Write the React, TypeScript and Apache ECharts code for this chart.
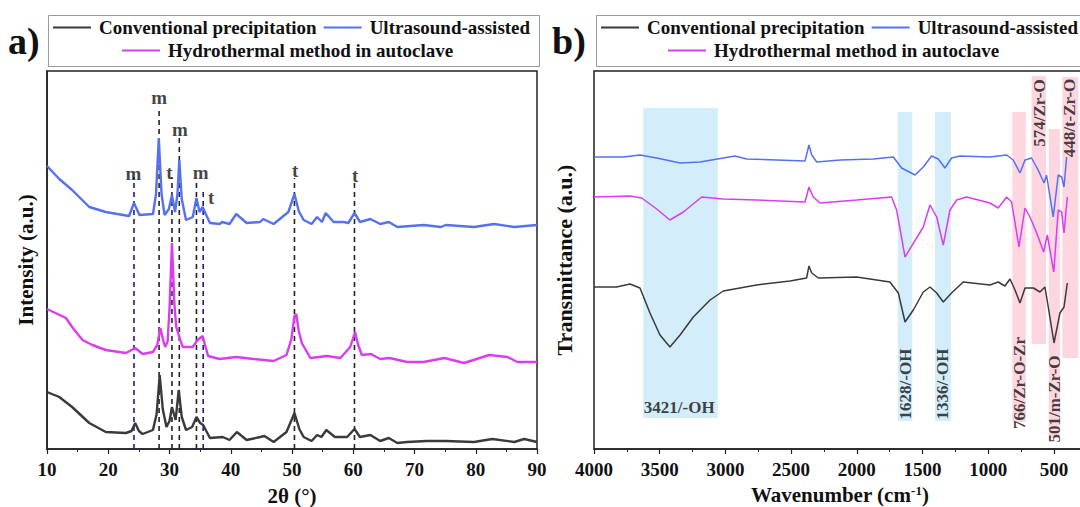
import React, { useEffect, useRef } from "react";
import * as echarts from "echarts";

// ---------- Data ----------
const SERIES_NAMES = ["Conventional precipitation", "Ultrasound-assisted", "Hydrothermal method in autoclave"];

// XRD: [2θ (°), intensity (a.u., offset)]
const XRD_CONV: [number, number][] = [
  [10, 57], [12, 52], [14.1, 42], [16.9, 26], [19.6, 17], [22.9, 16], [23.8, 18], [24.4, 26], [25.0, 18], [25.6, 15],
  [27.3, 19], [27.9, 35], [28.4, 74], [28.9, 40], [29.5, 22], [30.0, 28], [30.4, 42], [31.0, 29], [31.5, 59], [32.0, 32],
  [32.7, 19], [33.7, 22], [34.4, 32], [35.0, 26], [35.5, 24], [36.6, 11], [38.7, 12], [39.8, 9], [41, 17], [42.6, 9],
  [44.8, 12], [45.5, 13], [47, 7], [49.1, 17], [50.4, 36], [51.2, 20], [51.9, 12], [53.2, 8], [54.1, 14], [54.8, 12],
  [55.6, 19], [57, 12], [59, 12], [60.2, 20], [61.1, 12], [62.8, 14], [64.4, 8], [65.8, 11], [67.2, 6], [68.8, 7],
  [72, 8], [75.1, 8], [79.7, 7], [82.7, 10], [86.3, 7], [87.9, 10], [90, 7],
];
const XRD_ULTRA: [number, number][] = [
  [10, 283], [12, 270], [14.1, 259], [16.9, 242], [19.6, 237], [23.4, 233], [24.2, 246], [25.1, 234], [27.3, 235],
  [27.8, 255], [28.25, 311], [28.7, 255], [29.2, 234], [29.9, 240], [30.4, 254], [30.9, 237], [31.3, 255], [31.6, 289],
  [32.0, 250], [32.7, 229], [33.8, 232], [34.4, 251], [34.9, 237], [35.4, 242], [36.6, 226], [38.2, 225], [38.6, 227],
  [39.8, 225], [40.9, 235], [42.6, 226], [44.8, 227], [45.3, 230], [47, 225], [49.4, 237], [50.4, 255], [51.1, 238],
  [51.9, 229], [53.2, 225], [54.1, 232], [54.9, 227], [55.5, 236], [56.8, 227], [58.4, 227], [59.2, 226], [60.2, 236],
  [61.1, 227], [62.8, 230], [64.4, 225], [65.8, 227], [67.2, 222], [71.5, 224], [74.3, 222], [75.1, 224], [79.7, 222],
  [83, 225], [86.3, 222], [90, 224],
];
const XRD_HYDRO: [number, number][] = [
  [10, 140], [13.1, 131], [14.1, 122], [15.8, 109], [17.4, 104], [19.6, 99], [22.9, 96], [24.4, 101], [25.6, 95],
  [27.3, 97], [28.0, 104], [28.5, 121], [29.0, 108], [29.3, 102], [29.7, 108], [30.0, 140], [30.4, 206], [30.8, 145],
  [31.1, 122], [31.4, 116], [31.8, 108], [32.2, 102], [33.8, 102], [34.6, 109], [35.4, 113], [35.8, 104], [36.3, 93],
  [38.2, 90], [40.9, 92], [43.7, 90], [47, 88], [49.1, 94], [49.9, 110], [50.4, 133], [50.7, 135], [51.1, 118],
  [51.6, 106], [53, 91], [55.7, 93], [57.9, 91], [59.5, 102], [60.3, 117], [60.8, 104], [61.4, 94], [62.9, 95],
  [64.4, 90], [65.9, 91], [68.8, 87], [71.5, 87], [74.9, 91], [78.1, 86], [82.2, 94], [85.2, 92], [86.8, 87], [90, 87],
];

// XRD reflection markers: [2θ, top of dashed line, phase]
const XRD_MARK_LINES: [number, number, string][] = [
  [24.2, 272, "edge"], [28.3, 342, "main"], [30.4, 272, "main"], [31.6, 314, "main"],
  [34.4, 266, "main"], [35.5, 261, "edge"], [50.4, 271, "main"], [60.2, 266, "main"],
];
// XRD phase labels: [2θ, height, text]
const XRD_LABELS: [number, number, string][] = [
  [24.1, 276, "m"], [28.3, 352, "m"], [30.0, 277, "t"], [31.7, 320, "m"],
  [35.1, 277, "m"], [36.8, 252, "t"], [50.5, 279, "t"], [60.3, 274, "t"],
];

// FTIR: [wavenumber (cm-1), transmittance (a.u., offset)]
const FTIR_CONV: [number, number][] = [
  [4000, 162], [3828, 162], [3726, 165], [3650, 161], [3574, 136], [3498, 114], [3422, 102], [3345, 114], [3244, 132],
  [3117, 149], [3016, 158], [2763, 164], [2508, 168], [2382, 171], [2364, 183], [2343, 176], [2292, 171], [2001, 172],
  [1748, 167], [1684, 156], [1633, 127], [1570, 139], [1494, 157], [1443, 162], [1392, 156], [1342, 147], [1279, 156],
  [1190, 167], [987, 164], [924, 167], [873, 163], [834, 170], [796, 159], [758, 146], [720, 161], [656, 161],
  [606, 157], [568, 162], [543, 142], [499, 106], [454, 136], [423, 142], [398, 166],
];
const FTIR_ULTRA: [number, number][] = [
  [4000, 292], [3878, 292], [3777, 292], [3650, 294], [3523, 291], [3345, 286], [3193, 287], [3016, 291], [2927, 293],
  [2838, 290], [2610, 289], [2394, 288], [2364, 304], [2343, 294], [2305, 287], [2128, 289], [1874, 290], [1722, 292],
  [1659, 281], [1557, 274], [1494, 282], [1431, 293], [1380, 290], [1329, 281], [1279, 291], [1215, 293], [987, 292],
  [860, 294], [810, 289], [758, 276], [720, 289], [670, 291], [620, 279], [575, 266], [556, 274], [505, 232],
  [467, 274], [441, 272], [423, 262], [403, 292],
];
const FTIR_HYDRO: [number, number][] = [
  [4000, 252], [3726, 253], [3637, 251], [3523, 240], [3422, 229], [3320, 237], [3180, 252], [3016, 250], [2763, 249],
  [2394, 247], [2364, 262], [2331, 252], [2280, 246], [2001, 249], [1735, 252], [1697, 239], [1633, 192], [1494, 222],
  [1443, 244], [1392, 232], [1342, 204], [1291, 239], [1240, 249], [1164, 252], [987, 246], [924, 241], [860, 252],
  [822, 247], [766, 202], [720, 241], [682, 232], [631, 216], [578, 197], [550, 214], [501, 177], [467, 239],
  [441, 237], [423, 216], [398, 252],
];

// FTIR assignment bands: [from, to, bottom, top, group]
const FTIR_BANDS: [number, number, number, number, string][] = [
  [3625, 3058, 31, 341, "OH"], [1688, 1578, 28, 337, "OH"], [1405, 1284, 28, 337, "OH"],
  [816, 714, 27, 337, "ZrO"], [670, 560, 105, 373, "ZrO"], [539, 454, 11, 320, "ZrO"], [436, 314, 91, 372, "ZrO"],
];
const FTIR_LABELS_H: [number, number, string][] = [[3351, 42, "3421/-OH"]];
const FTIR_LABELS_V: [number, number, string][] = [
  [1633, 65, "1628/-OH"], [1346, 65, "1336/-OH"], [758, 66, "766/Zr-O-Zr"],
  [492, 50, "501/m-Zr-O"], [606, 336, "574/Zr-O"], [378, 331, "448/t-Zr-O"],
];

// ---------- Styling ----------
const FONT = "'Liberation Serif', 'Times New Roman', serif";
const COLORS: Record<string, string> = {
  "Conventional precipitation": "#3a3a3a",
  "Ultrasound-assisted": "#5670f2",
  "Hydrothermal method in autoclave": "#dc3cf0",
};
const BAND_COLORS: Record<string, string> = { OH: "#d3edfb", ZrO: "#fdd6df" };

function buildOption(): echarts.EChartsOption {
  const axisLabel = {
    fontFamily: FONT, fontSize: 19, fontWeight: "bold" as const, color: "#111", margin: 11,
    formatter: (v: number) => (v === 0 ? "" : String(v)),
  };
  const nameStyle = (size: number) => ({ fontFamily: FONT, fontSize: size, fontWeight: "bold" as const, color: "#111" });
  const lineSeries = (name: string, data: [number, number][], idx: number, width: number) => ({
    type: "line" as const,
    name,
    data,
    xAxisIndex: idx,
    yAxisIndex: idx,
    showSymbol: false,
    symbol: "none",
    silent: true,
    z: 4,
    lineStyle: { width, color: COLORS[name] },
    itemStyle: { color: COLORS[name] },
  });
  const legendBase = {
    icon: "rect",
    itemWidth: 38,
    itemHeight: 2,
    itemGap: 7,
    padding: 0,
    selectedMode: false as const,
    textStyle: { fontFamily: FONT, fontSize: 19, fontWeight: "bold" as const, color: "#111", padding: [0, 0, 0, 3] },
  };
  const tickStyle = {
    axisLine: { lineStyle: { color: "#222", width: 1.5 } },
    axisTick: { length: 5, lineStyle: { color: "#222", width: 1.2 } },
    minorTick: { show: true, splitNumber: 2, length: 3, lineStyle: { color: "#222", width: 1 } },
    splitLine: { show: false },
  };

  const series: any[] = [
    lineSeries(SERIES_NAMES[0], XRD_CONV, 0, 2.4),
    lineSeries(SERIES_NAMES[1], XRD_ULTRA, 0, 2.4),
    lineSeries(SERIES_NAMES[2], XRD_HYDRO, 0, 2.4),
    lineSeries(SERIES_NAMES[0], FTIR_CONV, 1, 1.5),
    lineSeries(SERIES_NAMES[1], FTIR_ULTRA, 1, 1.5),
    lineSeries(SERIES_NAMES[2], FTIR_HYDRO, 1, 1.5),
  ];
  XRD_MARK_LINES.forEach(([x, top, kind]) => {
    series.push({
      type: "line",
      name: "ref-" + x,
      xAxisIndex: 0,
      yAxisIndex: 0,
      data: [[x, 0], [x, top]],
      showSymbol: false,
      symbol: "none",
      silent: true,
      z: 3,
      lineStyle: { width: 1.6, type: [5, 4], color: kind === "edge" ? "#1c1c8c" : "#222" },
    });
  });
  series.push({
    type: "scatter",
    name: "xrd-labels",
    xAxisIndex: 0,
    yAxisIndex: 0,
    symbolSize: 1,
    itemStyle: { color: "rgba(0,0,0,0)" },
    silent: true,
    z: 6,
    data: XRD_LABELS.map(([x, y, t]) => ({ value: [x, y], name: t })),
    label: { show: true, position: "inside", formatter: "{b}", fontFamily: FONT, fontSize: 19, fontWeight: "bold", color: "#111" },
  });
  series.push({
    type: "line",
    name: "bands",
    xAxisIndex: 1,
    yAxisIndex: 1,
    data: [],
    silent: true,
    z: 1,
    markArea: {
      silent: true,
      data: FTIR_BANDS.map(([a, b, lo, hi, g]) => [
        { coord: [a, lo], itemStyle: { color: BAND_COLORS[g] } },
        { coord: [b, hi] },
      ]),
    },
  });
  series.push({
    type: "scatter",
    name: "ftir-labels-h",
    xAxisIndex: 1,
    yAxisIndex: 1,
    symbolSize: 1,
    itemStyle: { color: "rgba(0,0,0,0)" },
    silent: true,
    z: 6,
    data: FTIR_LABELS_H.map(([x, y, t]) => ({ value: [x, y], name: t })),
    label: { show: true, position: "inside", formatter: "{b}", fontFamily: FONT, fontSize: 17, fontWeight: "bold", color: "#111" },
  });
  series.push({
    type: "scatter",
    name: "ftir-labels-v",
    xAxisIndex: 1,
    yAxisIndex: 1,
    symbolSize: 1,
    itemStyle: { color: "rgba(0,0,0,0)" },
    silent: true,
    z: 6,
    data: FTIR_LABELS_V.map(([x, y, t]) => ({ value: [x, y], name: t })),
    label: { show: true, position: "inside", rotate: 90, formatter: "{b}", fontFamily: FONT, fontSize: 17, fontWeight: "bold", color: "#111" },
  });

  return {
    animation: false,
    backgroundColor: "#fff",
    grid: [
      { left: 47, top: 71, width: 490, height: 378, show: true, borderColor: "#222", borderWidth: 1.5, containLabel: false, outerBoundsMode: "none" } as any,
      { left: 594, top: 71, width: 525.6, height: 378, show: true, borderColor: "#222", borderWidth: 1.5, containLabel: false, outerBoundsMode: "none" } as any,
    ],
    xAxis: [
      {
        type: "value", gridIndex: 0, min: 10, max: 90, interval: 10,
        name: "2θ (°)", nameLocation: "middle", nameGap: 36, nameTextStyle: nameStyle(21),
        axisLabel, ...tickStyle,
      },
      {
        type: "value", gridIndex: 1, min: 0, max: 4000, interval: 500, inverse: true,
        name: "{a|Wavenumber (cm}{s|-1}{a|)}", nameLocation: "middle", nameGap: 35,
        nameTextStyle: {
          ...nameStyle(21), padding: [0, 34, 0, 0],
          rich: {
            a: { fontFamily: FONT, fontSize: 21, fontWeight: "bold", color: "#111" },
            s: { fontFamily: FONT, fontSize: 13, fontWeight: "bold", color: "#111", verticalAlign: "top", padding: [0, 0, 8, 0] },
          },
        },
        axisLabel, ...tickStyle,
      },
    ],
    yAxis: [
      {
        type: "value", gridIndex: 0, min: 0, max: 378,
        name: "Intensity (a.u.)", nameLocation: "middle", nameGap: 11, nameTextStyle: nameStyle(21),
        axisLine: { show: true, lineStyle: { color: "#222", width: 1.5 } },
        axisTick: { show: false }, axisLabel: { show: false }, splitLine: { show: false },
      },
      {
        type: "value", gridIndex: 1, min: 0, max: 378,
        name: "Transmittance (a.u.)", nameLocation: "middle", nameGap: 19, nameTextStyle: nameStyle(22),
        axisLine: { show: true, lineStyle: { color: "#222", width: 1.5 } },
        axisTick: { show: false }, axisLabel: { show: false }, splitLine: { show: false },
      },
    ],
    legend: [
      { ...legendBase, data: [SERIES_NAMES[0], SERIES_NAMES[1]], left: 53, top: 18 },
      { ...legendBase, data: [SERIES_NAMES[2]], left: 122, top: 41 },
      { ...legendBase, data: [SERIES_NAMES[0], SERIES_NAMES[1]], left: 601, top: 18 },
      { ...legendBase, data: [SERIES_NAMES[2]], left: 668, top: 41 },
    ],
    graphic: [
      { type: "rect", left: 46, top: 13, shape: { width: 491, height: 51 }, style: { fill: "none", stroke: "#999", lineWidth: 1 }, silent: true, z: -1 },
      { type: "rect", left: 594, top: 13, shape: { width: 500, height: 51 }, style: { fill: "none", stroke: "#999", lineWidth: 1 }, silent: true, z: -1 },
      { type: "text", left: 8, top: 22, style: { text: "a)", fontFamily: FONT, fontSize: 38, fontWeight: "bold", fill: "#111" }, silent: true },
      { type: "text", left: 552, top: 22, style: { text: "b)", fontFamily: FONT, fontSize: 38, fontWeight: "bold", fill: "#111" }, silent: true },
    ],
    series,
  };
}

export default function App() {
  const ref = useRef<HTMLDivElement>(null);
  useEffect(() => {
    if (!ref.current) return;
    const chart = echarts.init(ref.current, undefined, { renderer: "svg" });
    chart.setOption(buildOption());
    return () => chart.dispose();
  }, []);
  return (
    <div
      ref={ref}
      style={{ position: "fixed", left: 0, top: 0, width: 1080, height: 507, background: "#fff", overflow: "hidden" }}
    />
  );
}
